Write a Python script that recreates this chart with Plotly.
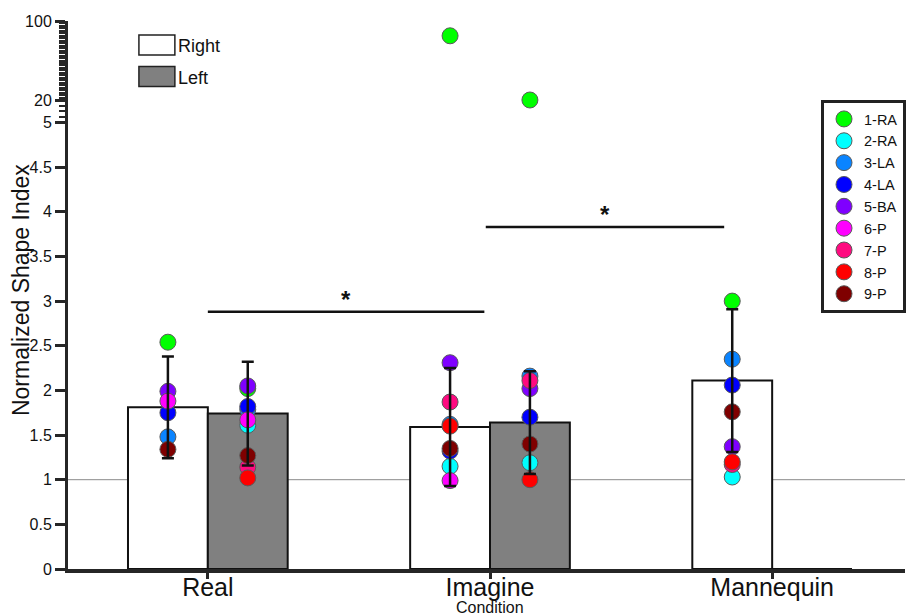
import numpy as np
import plotly.graph_objects as go

# ---------------- data ----------------
conditions = ["Real", "Imagine", "Mannequin"]
sides = ["Right", "Left"]

bar_right = [1.81, 1.59, 2.11]
bar_left = [1.74, 1.64, 0.0]
sd_right = [0.57, 0.66, 0.80]
sd_left = [0.58, 0.575, None]

participants = ["1-RA", "2-RA", "3-LA", "4-LA", "5-BA", "6-P", "7-P", "8-P", "9-P"]
colors = ["#00ff00", "#00ffff", "#0a84ff", "#0000ff", "#7f00ff",
          "#ff00ff", "#ff0a80", "#ff0000", "#7f0000"]

# values per participant: Real-R, Real-L, Imagine-R, Imagine-L, Mannequin-R
p1_ra = [2.54, 2.02, 85.0, 20.0, 3.00]
p2_ra = [None, 1.61, 1.15, 1.19, 1.03]
p3_la = [1.48, 1.785, 1.62, 2.16, 2.35]
p4_la = [1.75, 1.82, 1.32, 1.70, 2.06]
p5_ba = [1.99, 2.05, 2.31, 2.02, 1.37]
p6_p = [1.88, 1.67, 0.99, None, None]
p7_p = [None, 1.14, 1.87, 2.11, 1.17]
p8_p = [None, 1.02, 1.60, 1.00, 1.20]
p9_p = [1.34, 1.27, 1.35, 1.40, 1.76]
participant_values = [p1_ra, p2_ra, p3_la, p4_la, p5_ba, p6_p, p7_p, p8_p, p9_p]

# which condition / side each value belongs to
point_cond = [0, 0, 1, 1, 2]
point_side = [0, 1, 0, 1, 0]   # 0 = Right, 1 = Left

# significance comparisons: (from x, to x, y level)
sig_pairs = [(0.0, 0.98, 2.88), (0.985, 1.83, 3.83)]

# y tick labels
y_ticks_low = [0, 0.5, 1, 1.5, 2, 2.5, 3, 3.5, 4, 4.5]
y_ticks_mid = [5, 20]
y_ticks_top = [100]

# ---------------- layout constants ----------------
W, H = 906, 616
ML, MR, MT, MB = 68, 0, 21, 47
PW, PH = W - ML - MR, H - MT - MB
BAR_W = 0.283
OFF = BAR_W / 2
FONT = "Liberation Sans, Arial, sans-serif"
AX = "#262626"

D1 = (569 - 122.5) / PH
D2 = (569 - 100) / PH


def px2x(px):
    return (px - ML) / PW


def px2y(py):
    return (H - MB - py) / PH


def seg_of(v):
    if v <= 5:
        return "y"
    if v <= 20:
        return "y2"
    return "y3"


fig = go.Figure()

# bars
for s, (name, vals, fill) in enumerate([("Right", bar_right, "white"),
                                         ("Left", bar_left, "#808080")]):
    xs = [i + (-OFF if s == 0 else OFF) for i in range(len(conditions))]
    fig.add_trace(go.Bar(
        x=xs, y=vals, width=BAR_W, name=name,
        marker=dict(color=fill, line=dict(color="#111111", width=2)),
        showlegend=False, hoverinfo="skip",
    ))

# participant points
for name, col, vals in zip(participants, colors, participant_values):
    groups = {}
    for k, v in enumerate(vals):
        if v is None:
            continue
        xpos = point_cond[k] + (-OFF if point_side[k] == 0 else OFF)
        groups.setdefault(seg_of(v), ([], []))
        groups[seg_of(v)][0].append(xpos)
        groups[seg_of(v)][1].append(v)
    first = True
    for seg in ["y", "y2", "y3"]:
        if seg not in groups:
            continue
        gx, gy = groups[seg]
        fig.add_trace(go.Scatter(
            x=gx, y=gy, yaxis=seg, mode="markers", name=name,
            legendgroup=name, showlegend=first, cliponaxis=False,
            marker=dict(size=16, color=col, line=dict(color="#5a5a5a", width=1)),
        ))
        first = False

# error bars on top of points
ex, ey, ee = [], [], []
for i in range(len(conditions)):
    for s, (vals, sds) in enumerate([(bar_right, sd_right), (bar_left, sd_left)]):
        if sds[i] is None:
            continue
        ex.append(i + (-OFF if s == 0 else OFF))
        ey.append(vals[i])
        ee.append(sds[i])
fig.add_trace(go.Scatter(
    x=ex, y=ey, mode="markers", showlegend=False, hoverinfo="skip",
    marker=dict(size=1, color="rgba(0,0,0,0)"), cliponaxis=False,
    error_y=dict(type="data", array=ee, visible=True, color="#111111",
                 thickness=2.5, width=6),
))

tickfont = dict(family=FONT, size=16, color="#111111")
yax_common = dict(showline=True, linewidth=3, linecolor=AX, ticks="outside",
                  ticklen=10, tickwidth=2.5, tickcolor=AX, showgrid=False,
                  zeroline=False, tickfont=tickfont, anchor="x", fixedrange=True)

fig.update_layout(
    width=W, height=H, margin=dict(l=ML, r=MR, t=MT, b=MB),
    plot_bgcolor="white", paper_bgcolor="white",
    barmode="overlay",
    font=dict(family=FONT, color="#111111"),
    xaxis=dict(range=[-0.4956, 2.4708], tickvals=list(range(len(conditions))),
               ticktext=conditions, showline=True, linewidth=3.5, linecolor=AX,
               ticks="outside", ticklen=6, tickwidth=2.5, tickcolor=AX,
               ticklabelstandoff=-13,
               tickfont=dict(family=FONT, size=25, color="#111111"),
               showgrid=False, zeroline=False, fixedrange=True),
    yaxis=dict(domain=[0, D1], range=[0, 5], tickvals=y_ticks_low,
               ticktext=[f"{v:g}" for v in y_ticks_low], **yax_common),
    yaxis2=dict(domain=[D1, D2], range=[5, 20], tickvals=y_ticks_mid,
                ticktext=[f"{v:g}" for v in y_ticks_mid],
                minor=dict(tick0=5, dtick=3.75, ticks="outside", ticklen=6,
                           tickwidth=2, tickcolor=AX),
                **yax_common),
    yaxis3=dict(domain=[D2, 1], range=[20, 100], tickvals=y_ticks_top,
                ticktext=[f"{v:g}" for v in y_ticks_top],
                minor=dict(tick0=20, dtick=2.5, ticks="outside", ticklen=6,
                           tickwidth=2, tickcolor=AX),
                **yax_common),
    legend=dict(x=px2x(822), y=px2y(100), xanchor="left", yanchor="top",
                bgcolor="white", bordercolor="#222222", borderwidth=3,
                font=dict(family=FONT, size=14.5, color="#111111"),
                tracegroupgap=0, traceorder="grouped"),
)

shapes = []
annotations = []
# reference line at 1
shapes.append(dict(type="line", xref="paper", x0=0, x1=1, yref="y", y0=1, y1=1,
                   line=dict(color="#8a8a8a", width=1), layer="below"))
# significance bars
for (xa, xb, yl) in sig_pairs:
    shapes.append(dict(type="line", xref="x", yref="y", x0=xa, x1=xb, y0=yl, y1=yl,
                       line=dict(color="#111111", width=2.5)))
    annotations.append(dict(x=(xa + xb) / 2, y=yl, xref="x", yref="y", text="<b>*</b>",
                            showarrow=False, yanchor="middle", yshift=12,
                            font=dict(family=FONT, size=24, color="#111111")))

# Right / Left key
for k, (lab, fill) in enumerate(zip(sides, ["white", "#808080"])):
    top = 35 + k * 31.5
    shapes.append(dict(type="rect", xref="paper", yref="paper",
                       x0=px2x(139), x1=px2x(175), y0=px2y(top + 20), y1=px2y(top),
                       fillcolor=fill, line=dict(color="#222222", width=1.5)))
    annotations.append(dict(x=px2x(176), y=px2y(top + 11), xref="paper", yref="paper",
                            text=lab, showarrow=False, xanchor="left", yanchor="middle",
                            font=dict(family=FONT, size=18, color="#111111")))

# axis titles
annotations.append(dict(x=px2x(21), y=px2y(290), xref="paper", yref="paper",
                        text="Normalized Shape Index", textangle=-90, showarrow=False,
                        xanchor="center", yanchor="middle",
                        font=dict(family=FONT, size=23, color="#111111")))
annotations.append(dict(x=1, y=px2y(607), xref="x", yref="paper", text="Condition",
                        showarrow=False, xanchor="center", yanchor="middle",
                        font=dict(family=FONT, size=16, color="#111111")))

fig.update_layout(shapes=shapes, annotations=annotations)

fig.write_html("out.html")
